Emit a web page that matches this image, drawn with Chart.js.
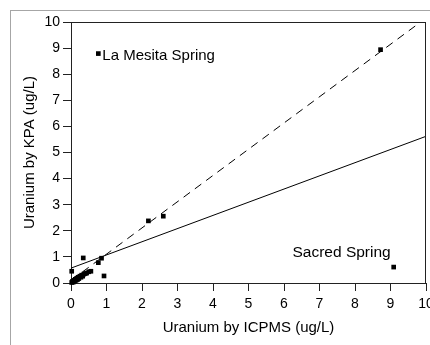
<!DOCTYPE html>
<html>
<head>
<meta charset="utf-8">
<script src="https://cdn.jsdelivr.net/npm/chart.js@4.4.1/dist/chart.umd.min.js"></script>
<style>
  html, body { margin: 0; padding: 0; background: #fff; }
  #wrap { position: relative; width: 430px; height: 345px; overflow: hidden; }
  #frame { position: absolute; left: 10px; top: 10px; right: 0; bottom: 0;
           border-top: 1px solid #a6a6a6; border-left: 1px solid #a6a6a6; pointer-events: none; }
  canvas { position: absolute; left: 0; top: 0; }
</style>
</head>
<body>
<div id="wrap">
  <canvas id="chart" width="430" height="345"></canvas>
  <div id="frame"></div>
</div>
<script>
// Uranium, ICPMS vs KPA (ug/L)
const icpms = [0.77, 8.72, 2.18, 2.6, 9.09, 0.345, 0.86, 0.77, 0.93, 0.56, 0.02,
  0.02, 0.04, 0.06, 0.08, 0.1, 0.12, 0.14, 0.16, 0.18, 0.2, 0.22, 0.25, 0.28,
  0.3, 0.33, 0.36, 0.4, 0.44, 0.5];
const kpa = [8.79, 8.94, 2.38, 2.56, 0.61, 0.96, 0.95, 0.78, 0.27, 0.45, 0.45,
  0.02, 0.06, 0.03, 0.1, 0.07, 0.14, 0.1, 0.18, 0.13, 0.22, 0.17, 0.26, 0.22,
  0.3, 0.26, 0.34, 0.36, 0.38, 0.43];

// fitted line (solid) and 1:1-ish line (dashed)
const fitX = [0, 10];
const fitY = [0.57, 5.62];
const dashX = [0, 9.85];
const dashY = [0.1, 10];

// named springs: index into the point arrays
const siteNames = ["La Mesita Spring", "Sacred Spring"];
const siteIndex = [0, 4];

const pts = icpms.map((x, i) => ({ x: x, y: kpa[i] }));
const fitPts = fitX.map((x, i) => ({ x: x, y: fitY[i] }));
const dashPts = dashX.map((x, i) => ({ x: x, y: dashY[i] }));

const FONT = "Arial, 'Liberation Sans', sans-serif";
const AX = "#222";

const boxAndLabels = {
  id: "boxAndLabels",
  afterDatasetsDraw(chart) {
    const ctx = chart.ctx;
    const a = chart.chartArea;
    const xs = chart.scales.x, ys = chart.scales.y;
    ctx.save();
    ctx.strokeStyle = AX;
    ctx.lineWidth = 1;
    ctx.beginPath();
    ctx.moveTo(a.left, a.top + 0.5);
    ctx.lineTo(a.right, a.top + 0.5);
    ctx.moveTo(a.right - 0.5, a.top);
    ctx.lineTo(a.right - 0.5, a.bottom);
    ctx.stroke();

    ctx.fillStyle = "#000";
    ctx.textBaseline = "middle";
    // La Mesita: text to the right of its point
    let i = siteIndex[0];
    ctx.font = "15px " + FONT;
    ctx.textAlign = "left";
    ctx.fillText(siteNames[0], xs.getPixelForValue(icpms[i]) + 4, ys.getPixelForValue(kpa[i]) + 2);
    // Sacred Spring: text above-left of its point
    i = siteIndex[1];
    ctx.font = "15.5px " + FONT;
    ctx.textAlign = "right";
    ctx.fillText(siteNames[1], xs.getPixelForValue(icpms[i]) - 3, ys.getPixelForValue(kpa[i]) - 14);
    ctx.restore();
  }
};

new Chart(document.getElementById("chart"), {
  type: "scatter",
  data: {
    datasets: [
      {
        data: pts,
        pointStyle: "rect",
        pointRadius: 3.3,
        borderWidth: 0,
        backgroundColor: "#000",
        clip: false,
        order: 0
      },
      {
        type: "line",
        data: fitPts,
        borderColor: "#000",
        borderWidth: 1,
        pointRadius: 0,
        fill: false,
        order: 1
      },
      {
        type: "line",
        data: dashPts,
        borderColor: "#000",
        borderWidth: 1,
        borderDash: [8, 6],
        pointRadius: 0,
        fill: false,
        order: 2
      }
    ]
  },
  options: {
    responsive: false,
    animation: false,
    layout: { padding: { top: 22, right: 3, left: 0, bottom: 0 } },
    plugins: { legend: { display: false }, tooltip: { enabled: false } },
    scales: {
      x: {
        type: "linear",
        min: 0,
        max: 10,
        ticks: { stepSize: 1, color: "#000", font: { size: 14, family: FONT }, padding: 5, maxRotation: 0 },
        grid: { drawOnChartArea: false, drawTicks: true, tickLength: 8, color: AX },
        border: { display: true, color: AX, width: 1 },
        title: { display: true, text: "Uranium by ICPMS (ug/L)", color: "#000",
                 font: { size: 15, family: FONT }, padding: { top: 0, bottom: 8 } },
        afterFit(scale) { scale.height = 62; scale.paddingRight = 0; scale.paddingLeft = 0; }
      },
      y: {
        type: "linear",
        min: 0,
        max: 10,
        ticks: { stepSize: 1, color: "#000", font: { size: 14, family: FONT }, padding: 3 },
        grid: { drawOnChartArea: false, drawTicks: true, tickLength: 8, color: AX },
        border: { display: true, color: AX, width: 1 },
        title: { display: true, text: "Uranium by KPA (ug/L)", color: "#000",
                 font: { size: 15, family: FONT }, padding: { top: 21, bottom: 0 } },
        afterFit(scale) { scale.width = 71; }
      }
    }
  },
  plugins: [boxAndLabels]
});
</script>
</body>
</html>
